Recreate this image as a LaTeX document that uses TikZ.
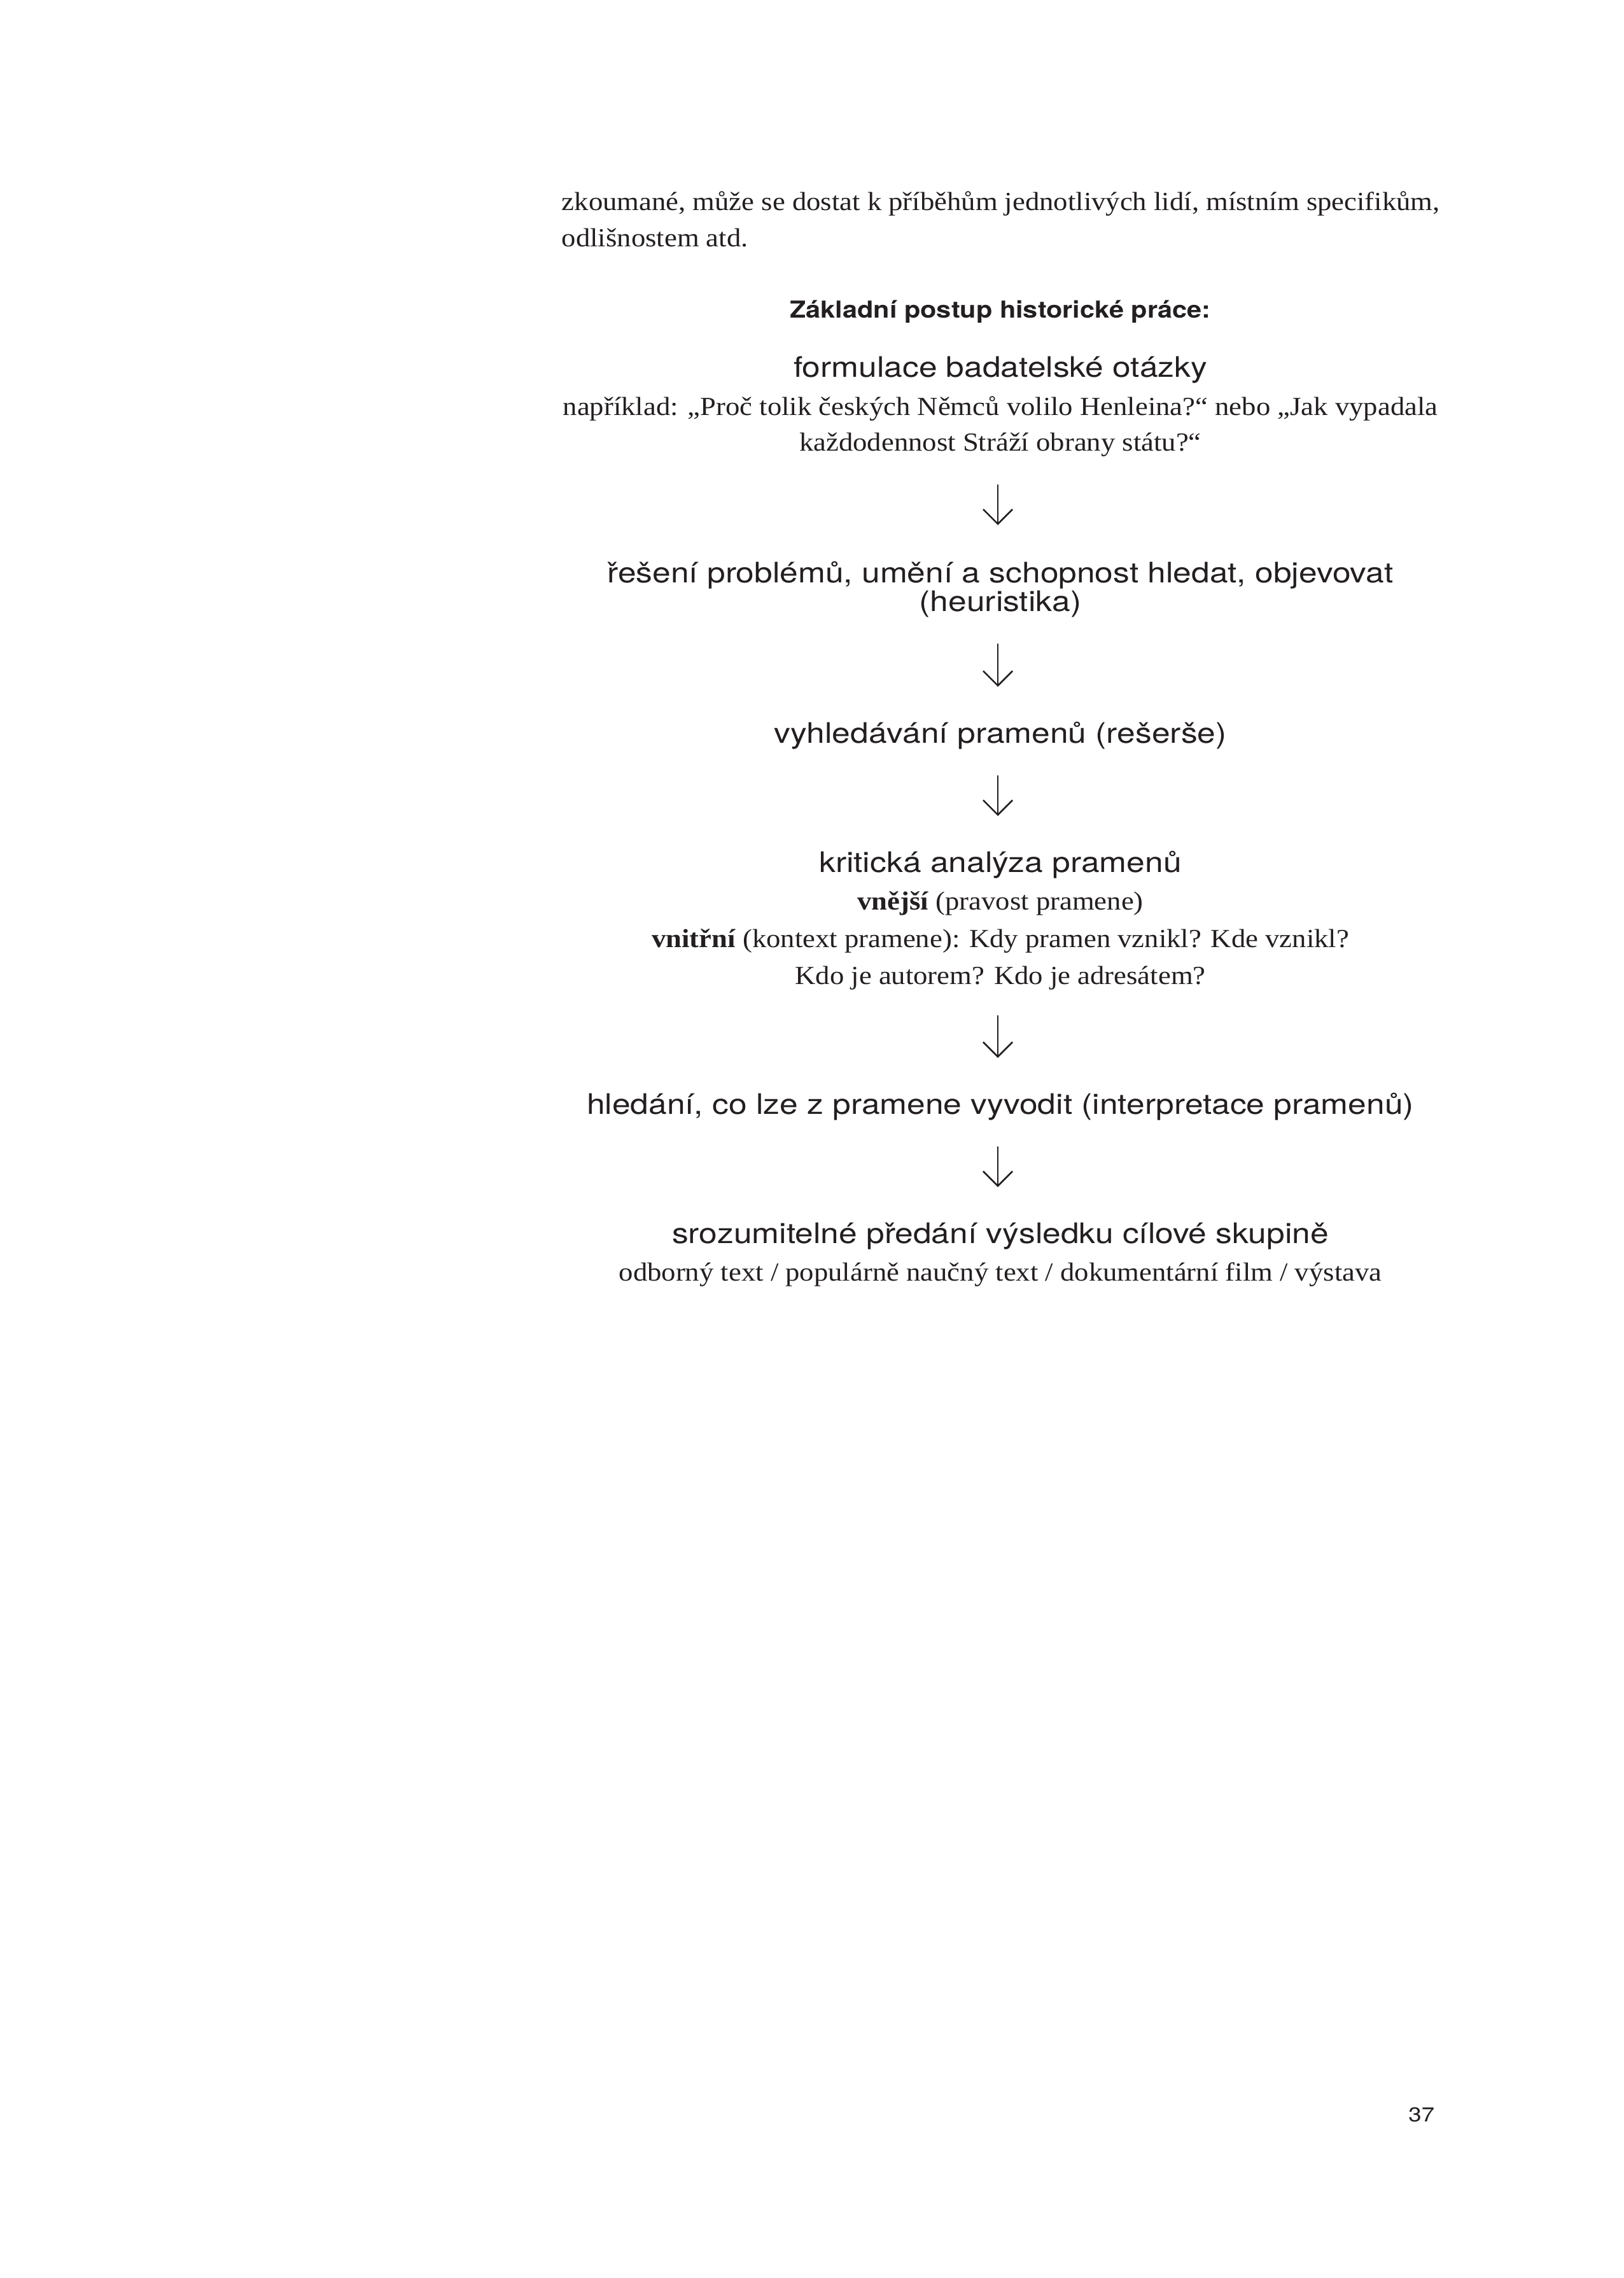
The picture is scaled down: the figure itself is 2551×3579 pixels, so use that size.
\documentclass[tikz,border=0pt]{standalone}
\usepackage{fontspec}
\setmainfont[FakeStretch=1.09]{Liberation Serif}
\newfontfamily\stepfont[FakeStretch=1.16]{TeX Gyre Heros}
\newfontfamily\headfont[FakeStretch=1.13]{TeX Gyre Heros}
\usepackage{xcolor}
\usetikzlibrary{calc,arrows.meta}

\definecolor{ink}{HTML}{231F20}

\begin{document}
\begin{tikzpicture}[x=0.0823207mm, y=-0.0823207mm, line cap=round, line join=round]
	% ===== stránka =====
	\useasboundingbox (0,0) rectangle (2551,3579);
	
	% ===== styly =====
	\tikzset{
		body/.style={anchor=base west, inner sep=0pt, text=ink, font=\fontsize{9.6pt}{12pt}\selectfont},
		note/.style={anchor=base, inner sep=0pt, text=ink, font=\fontsize{9.6pt}{12pt}\selectfont},
		stepbox/.style={anchor=base, inner sep=0pt, text=ink, font=\stepfont\fontsize{10.4pt}{12pt}\selectfont},
		head/.style={anchor=base, inner sep=0pt, text=ink, font=\headfont\bfseries\fontsize{8.6pt}{12pt}\selectfont},
		flow/.style={draw=ink, line width=0.6pt, -{Straight Barb[length=5.4pt, width=10.8pt]}}
	}
	
	% ===== text nad schématem =====
	\node[body] (par1) at (882,330) {zkoumané, může se dostat k příběhům jednotlivých lidí, místním specifikům,};
	\node[body] (par2) at (882,387) {odlišnostem atd.};
	
	\node[head] (title) at (1572,499) {Základní postup historické práce:};
	
	% ===== kroky =====
	\node[stepbox] (otazka) at (1572,592) {formulace badatelské otázky};
	\node[note] (otazka1) at (1572,652) {například: „Proč tolik českých Němců volilo Henleina?“ nebo „Jak vypadala};
	\node[note] (otazka2) at (1572,708) {každodennost Stráží obrany státu?“};
	
	\node[stepbox] (heur1) at (1572,915) {řešení problémů, umění a schopnost hledat, objevovat};
	\node[stepbox] (heur2) at (1572,960) {(heuristika)};
	
	\node[stepbox] (reserse) at (1572,1167) {vyhledávání pramenů (rešerše)};
	
	\node[stepbox] (kritika) at (1572,1370) {kritická analýza pramenů};
	\node[note] (kritika1) at (1572,1429) {\textbf{vnější} (pravost pramene)};
	\node[note] (kritika2) at (1572,1488) {\textbf{vnitřní} (kontext pramene): Kdy pramen vznikl? Kde vznikl?};
	\node[note] (kritika3) at (1572,1546) {Kdo je autorem? Kdo je adresátem?};
	
	\node[stepbox] (interp) at (1572,1750) {hledání, co lze z pramene vyvodit (interpretace pramenů)};
	
	\node[stepbox] (predani) at (1572,1953) {srozumitelné předání výsledku cílové skupině};
	\node[note] (predani1) at (1572,2012) {odborný text / populárně naučný text / dokumentární film / výstava};
	
	% ===== šipky =====
	\draw[flow] ($(otazka2.base)+(-4,54)$) -- ($(heur1.base)+(-4,-90)$);
	\draw[flow] ($(heur2.base)+(-4,52)$) -- ($(reserse.base)+(-4,-88)$);
	\draw[flow] ($(reserse.base)+(-4,52)$) -- ($(kritika.base)+(-4,-88)$);
	\draw[flow] ($(kritika3.base)+(-4,50)$) -- ($(interp.base)+(-4,-88)$);
	\draw[flow] ($(interp.base)+(-4,52)$) -- ($(predani.base)+(-4,-88)$);
	
	% ===== číslo strany =====
	\node[anchor=base east, inner sep=0pt, text=ink, font=\stepfont\fontsize{7.4pt}{9pt}\selectfont] (strana) at (2255,3333) {37};
\end{tikzpicture}
\end{document}
